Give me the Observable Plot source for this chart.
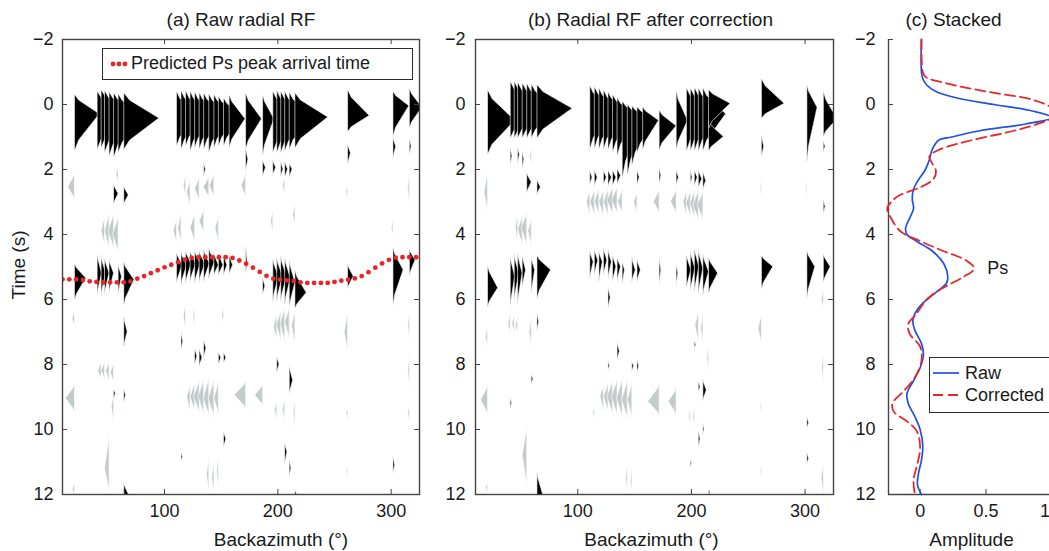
<!DOCTYPE html>
<html><head><meta charset="utf-8">
<script src="https://cdn.jsdelivr.net/npm/d3@7"></script>
<script src="https://cdn.jsdelivr.net/npm/@observablehq/plot@0.6"></script>
<style>
body{margin:0;width:1049px;height:551px;overflow:hidden;background:#fff;font-family:"Liberation Sans",Arial,sans-serif;color:#1a1a1a;}
#wrap{position:relative;width:1049px;height:551px;overflow:hidden;}
.panel{position:absolute;top:0;}
.legend{position:absolute;background:#fff;border:1.5px solid #2a2a2a;font-size:18px;color:#1a1a1a;box-sizing:border-box;}
.legend span{position:absolute;white-space:nowrap;line-height:20px;}
</style></head><body><div id="wrap"></div>
<script>
// ---------- axes / ticks ----------
const xDomain = [10, 325];
const yDomain = [-2, 12];
const xTicks = [100, 200, 300];
const yTicks = [-2, 0, 2, 4, 6, 8, 10, 12];
const ampDomain = [-0.24, 1.05];
const ampTicks = [0, 0.5, 1];

// ---------- predicted Ps arrival (red dots), panel a ----------
const predBaz = [10,16,22,28,34,40,46,52,58,64,70,76,82,88,94,100,106,112,118,124,130,136,142,148,154,160,166,172,178,184,190,196,202,208,214,220,226,232,238,244,250,256,262,268,274,280,286,292,298,304,310,316,322];
const predTime = [5.38,5.38,5.38,5.4,5.44,5.46,5.47,5.47,5.47,5.47,5.44,5.36,5.28,5.19,5.1,5.01,4.93,4.85,4.77,4.72,4.7,4.7,4.7,4.7,4.7,4.72,4.8,4.9,5.02,5.15,5.27,5.36,5.39,5.41,5.43,5.47,5.49,5.49,5.49,5.49,5.46,5.42,5.39,5.35,5.28,5.16,5.02,4.89,4.78,4.71,4.7,4.7,4.7];

// ---------- wiggle pulses: [backazimuth, start time, peak time, end time, amplitude (deg)] ----------
const rawPulses = [
 // direct P (t ~ 0)
 [21,-0.3,0.3,1.45,22],[41,-0.4,0.3,1.4,22],[44.5,-0.45,0.3,1.35,22],[47.5,-0.42,0.35,1.5,22],
 [51.5,-0.38,0.35,1.6,22],[55.5,-0.35,0.35,1.65,22],[59.5,-0.32,0.4,1.5,22],[64.5,-0.35,0.43,1.4,31],
 [111,-0.4,0.35,1.3,18],[115,-0.42,0.35,1.4,18],[119,-0.42,0.35,1.3,18],[123,-0.4,0.35,1.45,18],
 [127,-0.38,0.35,1.35,18],[131,-0.36,0.35,1.4,18],[135,-0.35,0.35,1.4,18],[139.5,-0.32,0.35,1.5,18],
 [144,-0.3,0.35,1.35,18],[148,-0.25,0.35,1.3,18],[152.5,-0.2,0.4,1.3,17],[157.5,-0.3,0.45,1.35,14],
 [172,-0.35,0.45,1.4,14],[187,-0.3,0.45,1.6,10],[196,-0.4,0.4,1.5,20],[199.5,-0.42,0.4,1.5,20],
 [203,-0.4,0.4,1.5,20],[206.5,-0.4,0.4,1.45,20],[210.5,-0.38,0.4,1.4,20],[215.5,-0.35,0.4,1.35,29],
 [262,-0.45,0.35,0.85,19],[302,-0.4,0.05,1.0,14],[316.5,-0.5,0.1,0.75,11],
 // small arrivals 1-3 s
 [302,1.0,1.3,1.7,2.5],[262,1.2,1.5,1.9,2.5],[55.5,2.45,2.75,3.1,4],[64.5,2.5,2.8,3.1,4],
 [135,1.8,2.0,2.25,1.5],[172,1.3,1.7,2.1,2],[187,1.7,1.95,2.25,2.5],[196,1.7,1.95,2.2,2.5],
 [203,1.75,2.0,2.25,2],[206.5,1.75,2.0,2.3,2.5],[210.5,1.8,2.0,2.3,2.5],[316.5,1.0,1.3,1.6,1.5],
 // negative lobes 2-4.6 s
 [21,2.1,2.55,2.95,-6],[59.5,1.9,2.15,2.45,-2],[47.5,3.4,3.9,4.4,-3],[51.5,3.3,3.9,4.5,-4],
 [55.5,3.3,3.9,4.5,-5],[59.5,3.4,4.0,4.6,-5],[111,3.5,3.9,4.3,-3],[115,3.3,3.8,4.3,-3],
 [119,2.1,2.5,2.9,-2],[123,2.3,2.7,3.2,-3],[127,3.3,3.8,4.3,-4],[131,2.2,2.6,3.0,-4],
 [135,3.2,3.6,4.0,-4],[139.5,2.2,2.55,2.9,-5],[144,2.1,2.5,2.9,-4],[148,3.4,3.8,4.3,-3],
 [172,2.1,2.5,2.9,-4],[196,3.2,3.6,4.0,-2],[206.5,2.2,2.5,2.8,-2],[215.5,3.0,3.4,3.8,-2],
 [262,2.4,2.7,3.0,-1.5],[302,3.5,3.8,4.1,-1.5],[316.5,2.0,2.6,3.2,-1.5],
 // Ps
 [21,4.9,5.35,6.05,10],[41,4.6,5.2,5.9,4],[44.5,4.65,5.2,5.95,4],[47.5,4.7,5.2,5.9,4],
 [51.5,4.75,5.2,5.85,4],[59.5,4.9,5.3,5.9,3],[64.5,4.85,5.4,6.2,9],
 [111,4.55,4.95,5.55,5],[115,4.55,4.95,5.6,5],[119,4.5,4.9,5.55,5],[123,4.5,4.9,5.5,5],
 [127,4.5,4.9,5.55,5],[131,4.5,4.9,5.5,5],[135,4.45,4.9,5.5,5],[139.5,4.4,4.85,5.4,5],
 [144,4.55,4.95,5.3,4],[148,4.55,4.95,5.3,4],[152.5,4.6,4.95,5.3,3],[157.5,4.6,4.95,5.25,3],
 [172,4.25,4.9,5.25,1.5],[187,5.3,5.6,5.9,2],[196,4.75,5.3,6.1,5],[199.5,4.7,5.3,6.1,5],
 [203,4.65,5.3,6.1,5],[206.5,4.7,5.35,6.2,5],[210.5,4.75,5.5,6.3,5],[215.5,5.1,5.8,6.3,10],
 [262,4.9,5.3,5.7,5],[302,4.4,5.1,6.2,9],[316.5,4.45,4.8,5.3,5],
 // later arrivals
 [21,6.3,6.6,6.9,-2],[21,8.6,9.05,9.5,-8],[44.5,7.9,8.2,8.5,-3],[47.5,7.9,8.2,8.5,-3],
 [51.5,7.9,8.2,8.55,-3],[55.5,7.95,8.25,8.6,-3],[51.5,10.1,11.2,12.0,-4],[55.5,8.8,9.3,9.9,-2],
 [64.5,6.5,7.0,7.5,3],[64.5,8.75,8.95,9.2,1.5],[55.5,8.75,8.9,9.1,1.5],[64.5,11.65,12.0,12.1,4],
 [21,11.6,11.85,12.1,-2],[119,6.1,6.5,7.0,-2],[127,6.2,6.5,6.9,-1.5],[152.5,6.2,6.5,6.8,-1.5],
 [115,7.0,7.3,7.6,1.5],[131,7.5,7.8,8.1,2.5],[127,7.5,7.75,8.05,2],[135,7.25,7.5,7.85,2],
 [148,7.6,7.8,8.05,2],[152.5,7.6,7.8,8.0,2],
 [123,8.6,9.0,9.5,-3],[127,8.5,9.0,9.5,-4],[131,8.45,9.0,9.55,-5],[135,8.4,9.0,9.6,-5],
 [139.5,8.35,9.05,9.65,-5],[144,8.4,9.05,9.7,-5],[148,8.45,9.05,9.6,-4],[172,8.5,8.95,9.4,-10],
 [187,8.6,8.95,9.3,-7],[139.5,10.8,11.4,12.0,-2],[144,10.9,11.5,12.0,-2],[148,10.7,11.3,12.0,-1.5],
 [152.5,10.05,10.3,10.6,2],[115,10.7,10.85,11.0,1.2],[199.5,7.75,8.0,8.3,2],[210.5,8.0,8.5,8.95,3],
 [199.5,6.4,6.85,7.3,-3],[203,6.3,6.8,7.3,-4],[206.5,6.2,6.75,7.4,-4],[210.5,6.2,6.7,7.3,-4],
 [215.5,6.3,6.8,7.5,-3],[199.5,9.1,9.4,9.8,-2],[206.5,9.0,9.4,9.8,-2],[215.5,9.0,9.5,10.0,-1.5],
 [206.5,10.4,10.7,11.1,2],[210.5,10.9,11.2,11.5,1.5],[262,6.3,7.0,7.7,-3],[262,9.3,9.5,9.8,-1.5],
 [262,11.0,11.3,11.6,-1],[302,10.8,11.1,11.4,1.5],[316.5,6.3,6.8,7.3,-1.5],[316.5,7.6,8.2,8.8,-1.5],
 [316.5,9.2,9.5,9.8,-1.5],[215.5,11.85,12.0,12.1,1.5]
];

const corrPulses = [
 // direct P
 [21,-0.45,0.5,1.55,24],[41,-0.7,0.15,1.05,22],[44.5,-0.7,0.15,1.05,22],[47.5,-0.68,0.15,1.05,22],
 [51.5,-0.66,0.15,1.05,22],[55.5,-0.64,0.15,1.05,22],[59.5,-0.62,0.15,1.05,22],[64.5,-0.6,0.13,1.05,31],
 [111,-0.58,0.2,1.4,18],[115,-0.55,0.2,1.4,18],[119,-0.5,0.25,1.4,18],[123,-0.45,0.3,1.4,18],
 [127,-0.38,0.3,1.42,18],[131,-0.3,0.35,1.5,18],[135,-0.2,0.4,1.6,18],[139.5,-0.1,0.45,2.3,18],
 [144,0.0,0.5,2.2,18],[148,0.05,0.5,1.9,18],[152.5,0.08,0.5,1.5,18],[157.5,0.08,0.5,1.42,14],
 [172,0.18,0.67,1.42,15],[187,-0.43,0.5,1.42,10],[196,-0.5,0.3,1.45,20],[199.5,-0.5,0.3,1.45,20],
 [203,-0.52,0.3,1.45,20],[206.5,-0.5,0.3,1.45,20],[210.5,-0.5,0.3,1.45,20],
 [215.5,0.5,1.0,1.45,13],[215.5,-0.45,-0.02,0.75,19],
 [262,-0.79,-0.02,0.44,20],[262,0.9,1.3,1.67,2],[302,-0.6,0.1,1.8,9],[316.5,-0.4,0.45,1.0,12],
 [316.5,1.1,1.3,1.5,1.5],[316.5,2.9,3.15,3.4,1.5],
 // small arrivals 1-3 s
 [41,1.3,1.6,1.9,1.5],[47.5,1.3,1.55,1.85,1.5],[51.5,1.4,1.7,2.0,1.5],[55.5,2.1,2.4,2.75,4],
 [64.5,2.3,2.55,2.8,3],[111,2.0,2.25,2.5,2],[115,2.0,2.25,2.55,2.5],[123,2.0,2.25,2.5,2.5],
 [127,2.0,2.25,2.55,3],[131,2.0,2.25,2.55,3],[135,1.95,2.2,2.5,3],[152.5,2.0,2.25,2.5,2],
 [172,1.9,2.2,2.5,1.5],[187,2.0,2.25,2.5,2],[199.5,2.0,2.25,2.5,1.5],[203,2.0,2.25,2.55,2.5],
 [206.5,2.0,2.3,2.6,3],[210.5,2.05,2.35,2.65,2.5],
 // negative lobes
 [21,2.0,2.7,3.4,-3],[59.5,1.3,1.6,1.9,-1.5],[47.5,3.3,3.8,4.3,-2],[51.5,3.4,3.85,4.4,-4],
 [55.5,3.3,3.8,4.4,-5],[59.5,3.5,3.9,4.4,-3],[111,2.6,3.0,3.5,-3],[115,2.6,3.0,3.45,-4],
 [119,2.55,3.0,3.45,-4],[123,2.6,3.0,3.5,-4],[127,2.55,3.0,3.5,-4],[131,2.5,2.95,3.45,-5],
 [135,2.5,2.95,3.4,-5],[139.5,2.6,3.0,3.4,-4],[152.5,2.7,3.0,3.4,-3],[172,2.6,3.0,3.4,-5],
 [187,2.6,3.0,3.4,-5],[196,2.6,3.0,3.5,-3],[199.5,2.6,3.05,3.5,-4],[203,2.6,3.05,3.55,-4],
 [206.5,2.6,3.1,3.6,-5],[210.5,2.65,3.1,3.6,-5],[262,2.2,2.6,3.0,-1],[302,2.3,2.6,3.0,-1],
 // Ps
 [21,4.95,5.65,6.25,9],[41,4.65,5.3,6.3,4],[44.5,4.6,5.2,6.1,4],[47.5,4.55,5.2,6.2,4],
 [51.5,4.6,5.1,5.7,3],[59.5,4.7,5.1,5.9,3],[64.5,4.65,5.1,6.0,12],
 [111,4.5,4.85,5.4,3],[115,4.45,4.8,5.3,3],[119,4.5,4.85,5.5,3],[123,4.4,4.8,5.3,3],
 [127,4.45,4.85,5.4,3],[131,4.6,5.0,5.5,3],[127,5.6,5.95,6.3,2],[135,4.7,5.0,5.5,3],
 [139.5,4.8,5.1,5.6,2],[148,4.7,5.1,5.5,3],[152.5,4.75,5.1,5.5,3],[172,4.7,5.1,5.6,1.5],
 [187,4.9,5.2,5.6,1.5],[196,4.6,5.1,5.7,4],[199.5,4.5,5.05,5.8,4],[203,4.4,5.0,5.85,4],
 [206.5,4.45,5.05,5.9,4],[210.5,4.6,5.15,5.9,5],[215.5,4.7,5.2,5.85,8],
 [262,4.65,5.0,5.7,10],[302,4.5,5.0,6.0,7],[316.5,4.6,5.0,5.5,6],
 // later arrivals
 [21,6.8,7.15,7.5,-2],[21,8.6,9.1,9.6,-6],[21,11.5,11.8,12.1,-1.5],[41,6.4,6.75,7.1,-2],
 [44.5,6.4,6.75,7.1,-2],[47.5,6.5,6.8,7.1,-2],[59.5,6.5,7.0,7.5,-2],[55.5,9.8,10.8,11.9,-4],
 [59.5,8.3,8.45,8.65,1.5],[64.5,6.4,6.7,7.0,1.5],[64.5,11.3,12.0,12.1,5],[41,9.0,9.2,9.4,1.2],
 [135,7.3,7.6,7.9,2],[127,7.9,8.05,8.2,1.2],[148,7.9,8.05,8.25,1.5],[152.5,7.85,8.05,8.3,1.5],
 [123,8.6,9.0,9.5,-3],[127,8.5,9.0,9.5,-4],[131,8.45,9.0,9.6,-5],[135,8.4,9.0,9.65,-5],
 [139.5,8.35,9.05,9.7,-5],[144,8.4,9.1,9.75,-5],[148,8.5,9.1,9.7,-4],[172,8.6,9.15,9.6,-10],
 [187,8.7,9.15,9.6,-7],[115,9.3,9.5,9.7,-1.5],[144,11.0,11.5,12.0,-1.5],[148,11.1,11.6,12.0,-1.5],
 [206.5,8.5,8.7,8.9,1.5],[210.5,8.45,8.8,9.15,3],[203,7.25,7.4,7.55,1.2],[206.5,10.0,10.3,10.6,1.5],
 [210.5,9.8,10.0,10.2,1],[199.5,10.9,11.05,11.2,1],[206.5,6.3,6.8,7.4,-3],[210.5,6.4,6.9,7.4,-2],
 [215.5,7.3,7.8,8.3,-1.5],[199.5,9.3,9.6,9.9,-1.5],[203,9.3,9.6,10.0,-1.5],[215.5,11.8,11.95,12.1,1.2],
 [262,6.4,6.9,7.4,-3],[262,9.0,9.3,9.6,-1],[262,11.0,11.3,11.6,-1],[302,9.6,9.8,10.0,1.5],
 [302,10.7,10.9,11.1,1.5],[316.5,5.7,6.0,6.3,-2],[316.5,7.6,8.1,8.7,-1.5],[316.5,11.0,11.5,12.1,-2]
];

// ---------- stacked traces, panel c ----------
const rawTime = [-2,-1.0,-0.8,-0.6,-0.4,-0.2,0,0.2,0.4,0.6,0.8,1.0,1.1,1.4,1.7,2.0,2.3,2.6,2.9,3.2,3.5,3.8,4.0,4.2,4.5,4.9,5.3,5.5,5.75,6.0,6.3,6.65,6.95,7.35,7.7,8.1,8.5,8.9,9.2,9.6,10.0,10.5,10.95,11.3,11.7,12];
const rawAmp  = [0.01,0.01,0.02,0.05,0.12,0.28,0.56,0.85,1.0,0.8,0.46,0.24,0.14,0.09,0.07,0.04,-0.01,-0.05,-0.06,-0.05,-0.08,-0.11,-0.1,-0.03,0.09,0.18,0.21,0.2,0.13,0.05,-0.02,-0.055,-0.04,0.01,0.025,0.0,-0.05,-0.1,-0.09,-0.04,0.0,0.02,0.01,-0.01,-0.02,0.01];
const corrTime = [-2,-1.0,-0.85,-0.65,-0.4,-0.15,0.1,0.3,0.5,0.8,1.1,1.4,1.6,1.8,2.05,2.3,2.55,2.8,3.0,3.2,3.5,3.9,4.2,4.5,4.8,5.05,5.3,5.5,5.75,6.05,6.45,6.75,7.05,7.45,7.9,8.4,8.8,9.2,9.45,9.75,10.05,10.55,11.05,11.55,12];
const corrAmp  = [0.01,0.02,0.04,0.2,0.5,0.85,1.0,1.05,0.96,0.72,0.39,0.14,0.07,0.09,0.12,0.1,0.0,-0.16,-0.22,-0.25,-0.22,-0.15,0.0,0.17,0.35,0.41,0.33,0.24,0.13,0.04,-0.03,-0.09,-0.08,0.0,0.01,-0.04,-0.12,-0.21,-0.2,-0.1,-0.025,0.0,-0.02,-0.05,-0.04];
const stackNotes = [{label: "Ps", amp: 0.51, t: 5.05}];

// ---------- styling ----------
const BLACK = "#000", GRAY = "#c3cbcb", RED = "#e8262a", BLUE = "#1f4fe8", AXIS = "#444";
const H = 551, MT = 39, MB = 57;
const FONT = {fontFamily: "'Liberation Sans', Arial, sans-serif", fontSize: "18px", color: "#1a1a1a", background: "transparent", overflow: "visible"};
const PROFILE = [[0,0],[0.3,0.17],[1,1]]; // glyph outline: fraction of rise, fraction of amplitude

function pulseRows(pulses){
  const sorted = pulses.map((p,i)=>({p,i})).sort((a,b)=>a.p[0]-b.p[0] || a.i-b.i);
  const rows = [];
  sorted.forEach(({p:[baz,t0,tp,t1,amp]},k)=>{
    const fill = amp > 0 ? BLACK : GRAY;
    PROFILE.forEach(([u,f])=>rows.push({id:k, baz, t:t0+u*(tp-t0), x:baz+amp*f, fill}));
    PROFILE.slice(0,-1).reverse().forEach(([u,f])=>rows.push({id:k, baz, t:t1-u*(t1-tp), x:baz+amp*f, fill}));
  });
  return rows;
}

function tickMarks(xt, yt, fw, fh, sides){
  const m = [];
  if (sides.includes("b")) m.push(Plot.ruleX(xt, {stroke: AXIS, insetTop: fh-5}));
  if (sides.includes("t")) m.push(Plot.ruleX(xt, {stroke: AXIS, insetBottom: fh-5}));
  if (sides.includes("l")) m.push(Plot.ruleY(yt, {stroke: AXIS, insetRight: fw-5}));
  if (sides.includes("r")) m.push(Plot.ruleY(yt, {stroke: AXIS, insetLeft: fw-5}));
  return m;
}

function label(text, anchor, dx, dy, extra={}){
  return Plot.text([text], {frameAnchor:anchor, dx, dy, lineAnchor:"middle", textAnchor:"middle", fontSize:19, ...extra});
}

function wigglePanel({pulses, width, ml, mr, title, titleDx, xlabelDx, tickPad, withPred, withYLabel}){
  const fw = width-ml-mr, fh = H-MT-MB;
  const marks = [
    Plot.areaX(pulseRows(pulses), {y:"t", x1:"baz", x2:"x", z:"id", fill:"fill", stroke:"#fff", strokeWidth:0.6, clip:true})
  ];
  if (withPred) marks.push(Plot.dot(predBaz.map((b,i)=>({baz:b, t:predTime[i]})), {x:"baz", y:"t", r:2.4, fill:RED, clip:true}));
  marks.push(Plot.frame({stroke: AXIS, strokeWidth: 1.4}));
  marks.push(...tickMarks(xTicks, yTicks, fw, fh, "btlr"));
  marks.push(Plot.axisX({ticks: xTicks, tickSize: 0, tickPadding: 10, label: null}));
  marks.push(Plot.axisY({ticks: yTicks, tickSize: 0, tickPadding: tickPad, label: null}));
  marks.push(label(title, "top", titleDx, -20));
  marks.push(label("Backazimuth (°)", "bottom", xlabelDx, 45));
  if (withYLabel) marks.push(label("Time (s)", "left", -44, -2, {rotate:-90}));
  return Plot.plot({
    width, height:H, marginLeft:ml, marginRight:mr, marginTop:MT, marginBottom:MB,
    x:{domain:xDomain}, y:{domain:yDomain, reverse:true},
    color:{type:"identity"}, style:FONT, marks
  });
}

const wrap = document.getElementById("wrap");
function place(el, left){ el.classList.add("panel"); el.style.left = left+"px"; wrap.appendChild(el); }

place(wigglePanel({pulses:rawPulses, width:440, ml:62, mr:21, title:"(a) Raw radial RF", titleDx:0, xlabelDx:40, tickPad:9, withPred:true, withYLabel:true}), 0);
place(wigglePanel({pulses:corrPulses, width:420, ml:45, mr:17, title:"(b) Radial RF after correction", titleDx:-4, xlabelDx:-3, tickPad:10, withPred:false, withYLabel:false}), 430);

// panel c
{
  const width = 220, ml = 38, mr = 12;
  const fw = width-ml-mr, fh = H-MT-MB;
  const raw = rawTime.map((t,i)=>({t, a:rawAmp[i]}));
  const corr = corrTime.map((t,i)=>({t, a:corrAmp[i]}));
  const fmt = d => String(d);
  const chart = Plot.plot({
    width, height:H, marginLeft:ml, marginRight:mr, marginTop:MT, marginBottom:MB,
    x:{domain:ampDomain}, y:{domain:yDomain, reverse:true}, style:FONT,
    marks:[
      Plot.ruleX([ampDomain[0]], {stroke:AXIS, strokeWidth:1.4}),
      Plot.ruleY([yDomain[1]], {stroke:AXIS, strokeWidth:1.4}),
      ...tickMarks(ampTicks, yTicks, fw, fh, "bl"),
      Plot.axisX({ticks: ampTicks.slice(0, -1), tickFormat: fmt, tickSize:0, tickPadding:10, label:null}),
      Plot.axisX({ticks: ampTicks.slice(-1), tickFormat: fmt, tickSize:0, tickPadding:10, label:null, dx:-7}),
      Plot.axisY({ticks: yTicks, tickSize:0, tickPadding:13, label:null}),
      Plot.line(raw, {x:"a", y:"t", stroke:BLUE, strokeWidth:1.7, curve:"catmull-rom"}),
      Plot.line(corr, {x:"a", y:"t", stroke:RED, strokeWidth:1.8, strokeDasharray:"10,5", curve:"catmull-rom"}),
      Plot.text(stackNotes, {x:"amp", y:"t", text:"label", textAnchor:"start", fontSize:18}),
      label("(c) Stacked", "top", -20, -20),
      label("Amplitude", "bottom", -2, 45)
    ]
  });
  place(chart, 850);
}

// legends
const legA = document.createElement("div");
legA.className = "legend";
Object.assign(legA.style, {left:"102px", top:"48px", width:"311px", height:"32px"});
legA.innerHTML = `<svg width="30" height="30" style="position:absolute;left:3px;top:0">
  <circle cx="7" cy="15" r="2.4" fill="${RED}"/><circle cx="13" cy="15" r="2.4" fill="${RED}"/><circle cx="19" cy="15" r="2.4" fill="${RED}"/></svg>
  <span style="left:28px;top:4px">Predicted Ps peak arrival time</span>`;
wrap.appendChild(legA);

const legC = document.createElement("div");
legC.className = "legend";
Object.assign(legC.style, {left:"929px", top:"357px", width:"150px", height:"56px"});
legC.innerHTML = `<svg width="34" height="56" style="position:absolute;left:0;top:0">
  <line x1="3" x2="29" y1="15" y2="15" stroke="${BLUE}" stroke-width="1.7"/>
  <line x1="3" x2="29" y1="37" y2="37" stroke="${RED}" stroke-width="1.8" stroke-dasharray="10,5"/></svg>
  <span style="left:35px;top:5px">Raw</span><span style="left:35px;top:27px">Corrected</span>`;
wrap.appendChild(legC);
</script></body></html>
